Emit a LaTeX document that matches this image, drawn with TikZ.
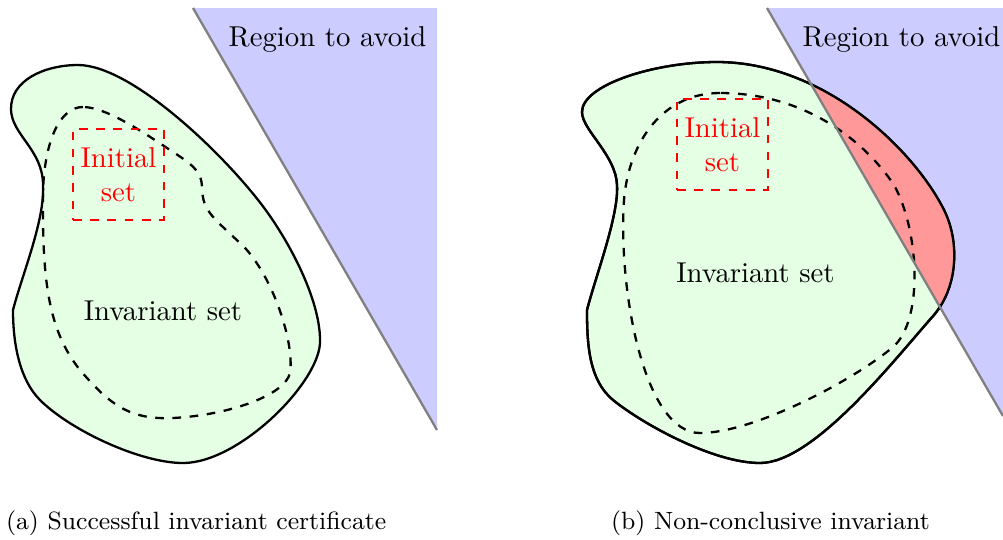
\documentclass[tikz,border=0pt]{standalone}
\usepackage{tikz}
\tikzset{every picture/.style={thick}}
\tikzset{invset/.style={draw=black, fill=green!10}}
\tikzset{avoid/.style={fill=blue!20}}
\tikzset{border/.style={draw=gray}}
\tikzset{inner/.style={draw=black, dashed}}
\tikzset{initbox/.style={draw=red, dashed, thin, text=red, align=center,
    minimum size=31.7pt, inner sep=1pt}}
\tikzset{lbl/.style={anchor=base}}
\tikzset{capt/.style={anchor=base west, inner sep=0pt, font=\fontsize{8.7}{10}\selectfont}}

% outlines of the two invariant sets
\newcommand\outerA{(13,310) .. controls (22,275) and (45,220) .. (43,185)
    .. controls (43,150) and (12,135) .. (11,110)
    .. controls (10,80) and (45,65) .. (78,65)
    .. controls (130,65) and (220,150) .. (262,205)
    .. controls (290,242) and (320,300) .. (320,340)
    .. controls (322,380) and (240,463) .. (183,463)
    .. controls (140,463) and (70,430) .. (40,400)
    .. controls (20,380) and (13,345) .. (13,310) -- cycle}
\newcommand\outerB{(13,310) .. controls (22,275) and (45,215) .. (43,185)
    .. controls (42,155) and (8,130) .. (8,112)
    .. controls (8,85) and (80,62) .. (143,62)
    .. controls (250,62) and (340,150) .. (370,210)
    .. controls (385,240) and (385,285) .. (360,315)
    .. controls (320,360) and (240,463) .. (186,463)
    .. controls (140,463) and (70,425) .. (39,400)
    .. controls (15,380) and (13,345) .. (13,310) -- cycle}

\begin{document}
\begin{tikzpicture}[x=0.348pt, y=-0.348pt]
\useasboundingbox (0,0) rectangle (1003,539);

% (a) successful certificate
\begin{scope}
\coordinate (top-a) at (193,8);
\coordinate (bot-a) at (437,430);
\fill[avoid] (top-a) -- (437,8) -- (bot-a) -- cycle;
\path[invset] \outerA;
\draw[inner] (83,107) .. controls (60,107) and (45,140) .. (43,190)
    .. controls (42,280) and (48,330) .. (80,370)
    .. controls (110,405) and (130,420) .. (173,418)
    .. controls (230,415) and (285,395) .. (290,373)
    .. controls (295,340) and (270,270) .. (240,243)
    .. controls (210,215) and (203,210) .. (202,188)
    .. controls (202,170) and (190,163) .. (167,148)
    .. controls (140,130) and (105,107) .. (83,107) -- cycle;
\draw[border] (top-a) -- (bot-a);
\node[initbox] (init-a) at (118.5,174.5) {Initial\\set};
\node[lbl] (inv-a) at (163,320) {Invariant set};
\node[lbl] (reg-a) at (327.5,46) {Region to avoid};
\node[capt] (cap-a) at (5,529) {(a) Successful invariant certificate};
\end{scope}

% (b) non-conclusive invariant
\begin{scope}[shift={(574,0)}]
\coordinate (top-b) at (193,8);
\coordinate (bot-b) at (429,416);
\fill[avoid] (top-b) -- (429,8) -- (bot-b) -- cycle;
\path[invset] \outerB;
\begin{scope}
\clip \outerB;
\fill[red!40] (top-b) -- (429,8) -- (bot-b) -- cycle;
\end{scope}
\draw[inner] (146,93) .. controls (90,93) and (55,140) .. (50,200)
    .. controls (44,290) and (70,433) .. (126,433)
    .. controls (180,433) and (280,380) .. (319,347)
    .. controls (350,320) and (345,230) .. (320,185)
    .. controls (290,140) and (230,93) .. (146,93) -- cycle;
\draw[black] \outerB;
\draw[border] (top-b) -- (bot-b);
\node[initbox] (init-b) at (148.5,144.5) {Initial\\set};
\node[lbl] (inv-b) at (181.5,282) {Invariant set};
\node[lbl] (reg-b) at (327.5,46) {Region to avoid};
\node[capt] (cap-b) at (36,529) {(b) Non-conclusive invariant};
\end{scope}
\end{tikzpicture}
\end{document}
